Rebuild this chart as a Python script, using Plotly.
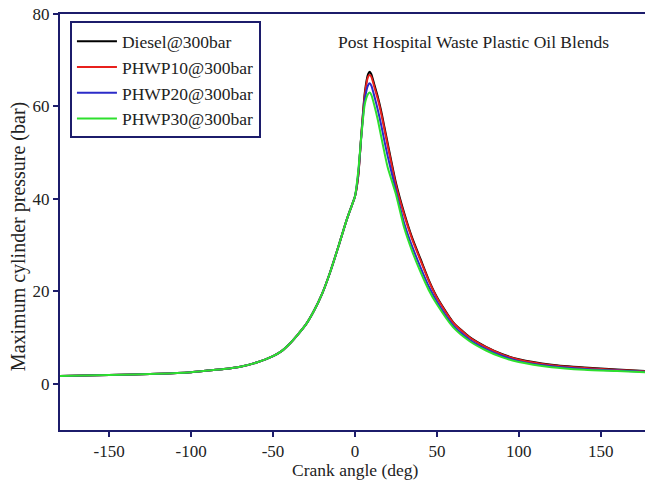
import plotly.graph_objects as go

crank_angle = [-180, -150, -120, -100, -90, -80, -70, -60, -50, -45, -40, -35, -30, -25, -20,
               -15, -10, -5, -2, 0, 2, 4, 6, 8, 9, 10, 12, 14, 16, 18, 20, 25, 30, 35, 40,
               45, 50, 60, 70, 80, 90, 100, 120, 140, 160, 180]

pre = [1.7, 1.9, 2.15, 2.5, 2.85, 3.2, 3.7, 4.6, 6.0, 7.0, 8.6, 10.6, 12.8, 15.8, 19.5,
       24.3, 29.8, 35.5, 38.5, 40.5]

diesel = pre + [45.0, 54.5, 63.0, 67.0, 67.5, 67.0, 64.5, 62.0, 59.0, 55.5, 52.0, 43.5, 37.0,
                31.5, 27.0, 22.5, 18.8, 13.3, 10.1, 8.0, 6.4, 5.3, 4.1, 3.5, 3.1, 2.7]
phwp10 = pre + [45.0, 54.3, 62.5, 66.4, 66.8, 66.4, 64.0, 61.5, 58.5, 55.0, 51.5, 43.0, 36.6,
                31.2, 26.7, 22.3, 18.6, 13.2, 10.0, 7.9, 6.3, 5.2, 4.0, 3.4, 3.0, 2.65]
phwp20 = pre + [45.5, 54.0, 61.5, 64.6, 65.0, 64.5, 62.0, 59.2, 56.0, 52.5, 49.2, 41.8, 34.8,
                29.6, 25.2, 21.1, 17.8, 12.6, 9.5, 7.5, 6.0, 4.9, 3.8, 3.2, 2.85, 2.55]
phwp30 = pre + [46.0, 54.0, 60.5, 62.7, 63.0, 62.5, 60.0, 57.0, 53.5, 50.0, 46.8, 41.0, 33.8,
                28.6, 24.2, 20.3, 17.2, 12.2, 9.2, 7.2, 5.7, 4.7, 3.6, 3.05, 2.75, 2.45]

series_names = ["Diesel@300bar", "PHWP10@300bar", "PHWP20@300bar", "PHWP30@300bar"]
series_values = [diesel, phwp10, phwp20, phwp30]
series_colors = ["#000000", "#e8201c", "#2b2bc8", "#2ee02e"]

x_ticks = [-150, -100, -50, 0, 50, 100, 150]
x_tick_text = ["-150", "-100", "-50", "0", "50", "100", "150"]
y_ticks = [0, 20, 40, 60, 80]

font_family = "Liberation Serif, Times New Roman, serif"
axis_color = "#1c1c6b"
text_color = "#222222"

fig = go.Figure()
for name, vals, col in zip(series_names, series_values, series_colors):
    fig.add_trace(go.Scatter(x=crank_angle, y=vals, mode="lines", name=name,
                             line=dict(color=col, width=2, shape="spline", smoothing=0.6)))

fig.update_layout(
    width=645, height=486,
    margin=dict(l=60, r=0, t=14, b=56, autoexpand=False),
    paper_bgcolor="white", plot_bgcolor="white",
    font=dict(family=font_family, size=17, color=text_color),
    showlegend=True,
    legend=dict(x=0.017, y=0.982, xanchor="left", yanchor="top",
                bordercolor=axis_color, borderwidth=2, bgcolor="white",
                font=dict(family=font_family, size=17.5, color=text_color),
                tracegroupgap=0, itemwidth=40),
    xaxis=dict(range=[-180, 177], tickvals=x_ticks, ticktext=x_tick_text,
               showgrid=False, zeroline=False, automargin=False,
               showline=True, linecolor=axis_color, linewidth=2, mirror=True,
               ticks="outside", ticklen=5, tickcolor=axis_color, tickwidth=2,
               tickfont=dict(family=font_family, size=17, color=text_color)),
    yaxis=dict(range=[-10, 80], tickvals=y_ticks, showgrid=False, zeroline=False,
               automargin=False,
               showline=True, linecolor=axis_color, linewidth=2, mirror=True,
               ticks="outside", ticklen=5, tickcolor=axis_color, tickwidth=2,
               tickfont=dict(family=font_family, size=17, color=text_color)),
    annotations=[
        dict(text="Post Hospital Waste Plastic Oil Blends", x=0.707, y=0.933,
             xref="paper", yref="paper", showarrow=False, xanchor="center", yanchor="middle",
             font=dict(family=font_family, size=17.5, color=text_color)),
        dict(text="Crank angle (deg)", x=0.505, y=-0.096,
             xref="paper", yref="paper", showarrow=False, xanchor="center", yanchor="middle",
             font=dict(family=font_family, size=17.5, color=text_color)),
        dict(text="Maximum cylinder pressure (bar)", x=-0.0718, y=0.466, textangle=-90,
             xref="paper", yref="paper", showarrow=False, xanchor="center", yanchor="middle",
             font=dict(family=font_family, size=20, color=text_color)),
    ],
)

fig.write_html("out.html", config={"displayModeBar": False},
               post_script="document.body.style.margin='0';document.body.style.overflow='hidden';")
